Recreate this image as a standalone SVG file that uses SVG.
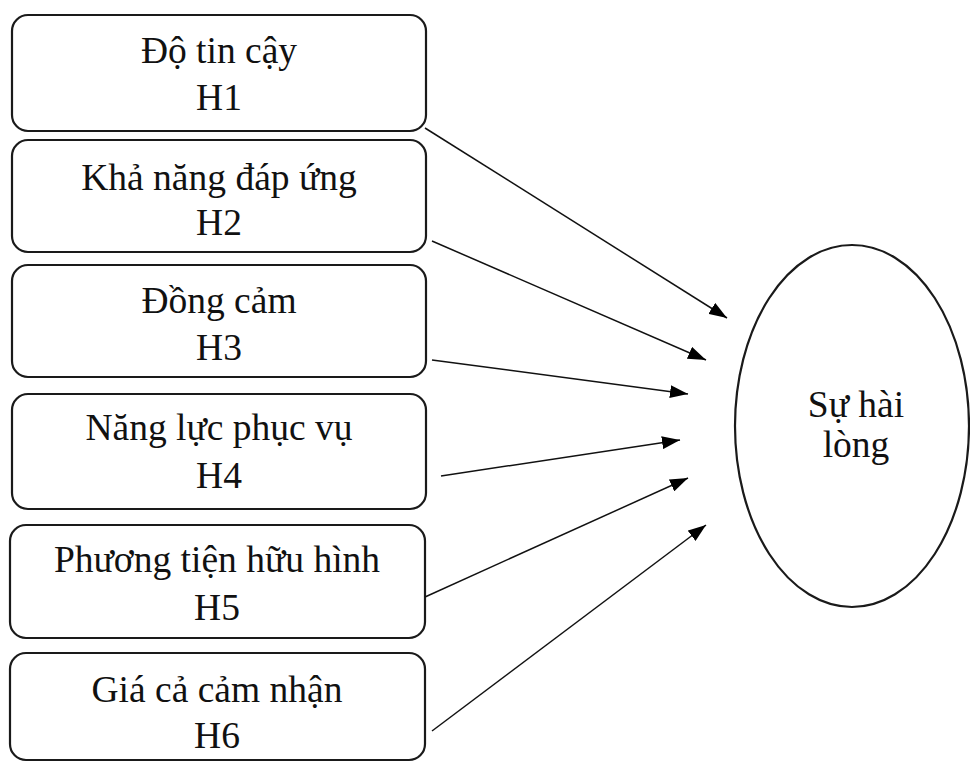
<svg xmlns="http://www.w3.org/2000/svg" width="970" height="763" viewBox="0 0 970 763">
<style>
.box{fill:#fff;stroke:#1a1a1a;stroke-width:2.2}
.lbl{font-family:"Liberation Serif","Times New Roman",serif;font-size:37.5px;fill:#111;text-anchor:middle}
.edge{stroke:#111;stroke-width:1.5;fill:none;marker-end:url(#arr)}
</style>
<defs>
<marker id="arr" markerUnits="userSpaceOnUse" markerWidth="19" markerHeight="13" refX="18" refY="6.5" orient="auto">
<path d="M0,0 L18,6.5 L0,13 z" fill="#000"/>
</marker>
</defs>
<rect width="970" height="763" fill="#fff"/>
<g id="n1"><rect class="box" x="12" y="15" width="414" height="116" rx="16"/><text class="lbl" x="219" y="63">Độ tin cậy</text><text class="lbl" x="219" y="110">H1</text></g>
<g id="n2"><rect class="box" x="12" y="140" width="414" height="112" rx="16"/><text class="lbl" x="219" y="190">Khả năng đáp ứng</text><text class="lbl" x="219" y="235">H2</text></g>
<g id="n3"><rect class="box" x="12" y="265" width="414" height="112" rx="16"/><text class="lbl" x="219" y="313">Đồng cảm</text><text class="lbl" x="219" y="360">H3</text></g>
<g id="n4"><rect class="box" x="12" y="394" width="414" height="115" rx="16"/><text class="lbl" x="219" y="440">Năng lực phục vụ</text><text class="lbl" x="219" y="488">H4</text></g>
<g id="n5"><rect class="box" x="10" y="525" width="415" height="113" rx="16"/><text class="lbl" x="217" y="572">Phương tiện hữu hình</text><text class="lbl" x="217" y="620">H5</text></g>
<g id="n6"><rect class="box" x="10" y="653" width="415" height="107" rx="16"/><text class="lbl" x="217" y="702">Giá cả cảm nhận</text><text class="lbl" x="217" y="748">H6</text></g>
<g id="n7"><ellipse class="box" cx="852" cy="426" rx="117" ry="181"/><text class="lbl" x="856" y="417">Sự hài</text><text class="lbl" x="856" y="457">lòng</text></g>
<g id="edges">
<line class="edge" x1="425" y1="128" x2="727" y2="318"/>
<line class="edge" x1="432" y1="241" x2="706" y2="360"/>
<line class="edge" x1="432" y1="360" x2="688" y2="394"/>
<line class="edge" x1="441" y1="476" x2="680" y2="440"/>
<line class="edge" x1="425" y1="597" x2="688" y2="478"/>
<line class="edge" x1="432" y1="731" x2="706" y2="525"/>
</g>
</svg>
